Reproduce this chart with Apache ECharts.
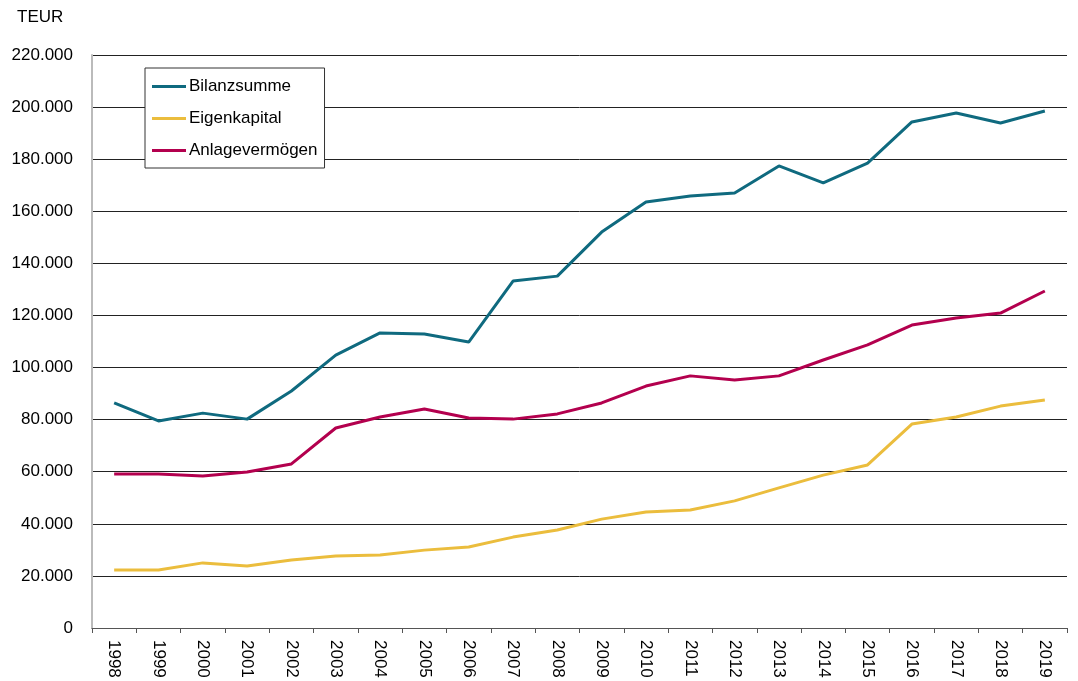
<!DOCTYPE html>
<html lang="de">
<head>
<meta charset="utf-8" />
<title>Bilanz</title>
<script src="https://cdn.jsdelivr.net/npm/echarts@6/dist/echarts.min.js"></script>
<style>
  html, body { margin: 0; padding: 0; background: #fff; }
</style>
</head>
<body>
<div id="main" style="width:1078px;height:681px;"></div>
<script>
var years = ['1998','1999','2000','2001','2002','2003','2004','2005','2006','2007','2008',
             '2009','2010','2011','2012','2013','2014','2015','2016','2017','2018','2019'];
// TEUR
var bilanzsumme = [86400, 79500, 82500, 80200, 91000, 104800, 113300, 112900, 109800, 133200, 135100,
                   152000, 163600, 165900, 167000, 177400, 170900, 178500, 194300, 197700, 193900, 198500];
var eigenkapital = [22300, 22300, 25000, 23800, 26100, 27600, 28000, 29900, 31100, 34900, 37600,
                    41800, 44500, 45300, 48800, 53800, 58700, 62600, 78300, 81000, 85200, 87500];
var anlagevermoegen = [59100, 59100, 58400, 59900, 63000, 76800, 81000, 84100, 80600, 80200, 82200,
                       86400, 92900, 96800, 95200, 96800, 102900, 108700, 116300, 119000, 120900, 129400];

var chart = echarts.init(document.getElementById('main'));
var font = 'Liberation Sans, Arial, sans-serif';

function fmt(v) {
    return String(v).replace(/\B(?=(\d{3})+(?!\d))/g, '.');
}

var option = {
    animation: false,
    textStyle: { fontFamily: font },
    title: {
        text: 'TEUR',
        left: 12, top: 4,
        textStyle: { fontSize: 17, fontWeight: 'normal', color: '#000', fontFamily: font }
    },
    grid: { left: 92, right: 11, top: 55, bottom: 53 },
    legend: {
        orient: 'vertical',
        left: 145, top: 68,
        padding: [10, 7, 9, 7],
        itemGap: 15,
        itemWidth: 34, itemHeight: 3,
        backgroundColor: '#fff',
        borderColor: '#333', borderWidth: 1,
        icon: 'rect',
        textStyle: { fontSize: 17, color: '#000', padding: [0, 0, 0, -2] },
        data: ['Bilanzsumme', 'Eigenkapital', 'Anlagevermögen']
    },
    xAxis: {
        type: 'category',
        data: years,
        boundaryGap: true,
        axisLine: { lineStyle: { color: '#555', width: 1 } },
        axisTick: { show: true, length: 5, lineStyle: { color: '#555' } },
        axisLabel: { rotate: -90, fontSize: 17, color: '#000', margin: 12 },
        splitLine: { show: false }
    },
    yAxis: {
        type: 'value',
        min: 0, max: 220000, interval: 20000,
        axisLine: { show: true, lineStyle: { color: '#bbb', width: 2 } },
        axisTick: { show: false },
        axisLabel: { fontSize: 17, color: '#000', margin: 19, formatter: fmt },
        splitLine: { lineStyle: { color: '#222', width: 1 } }
    },
    series: [
        {
            name: 'Bilanzsumme', type: 'line', data: bilanzsumme,
            symbol: 'none', color: '#0f6a7f', lineStyle: { width: 3, color: '#0f6a7f' }
        },
        {
            name: 'Eigenkapital', type: 'line', data: eigenkapital,
            symbol: 'none', color: '#ebbd3d', lineStyle: { width: 3, color: '#ebbd3d' }
        },
        {
            name: 'Anlagevermögen', type: 'line', data: anlagevermoegen,
            symbol: 'none', color: '#b3004e', lineStyle: { width: 3, color: '#b3004e' }
        }
    ]
};
chart.setOption(option);
</script>
</body>
</html>
